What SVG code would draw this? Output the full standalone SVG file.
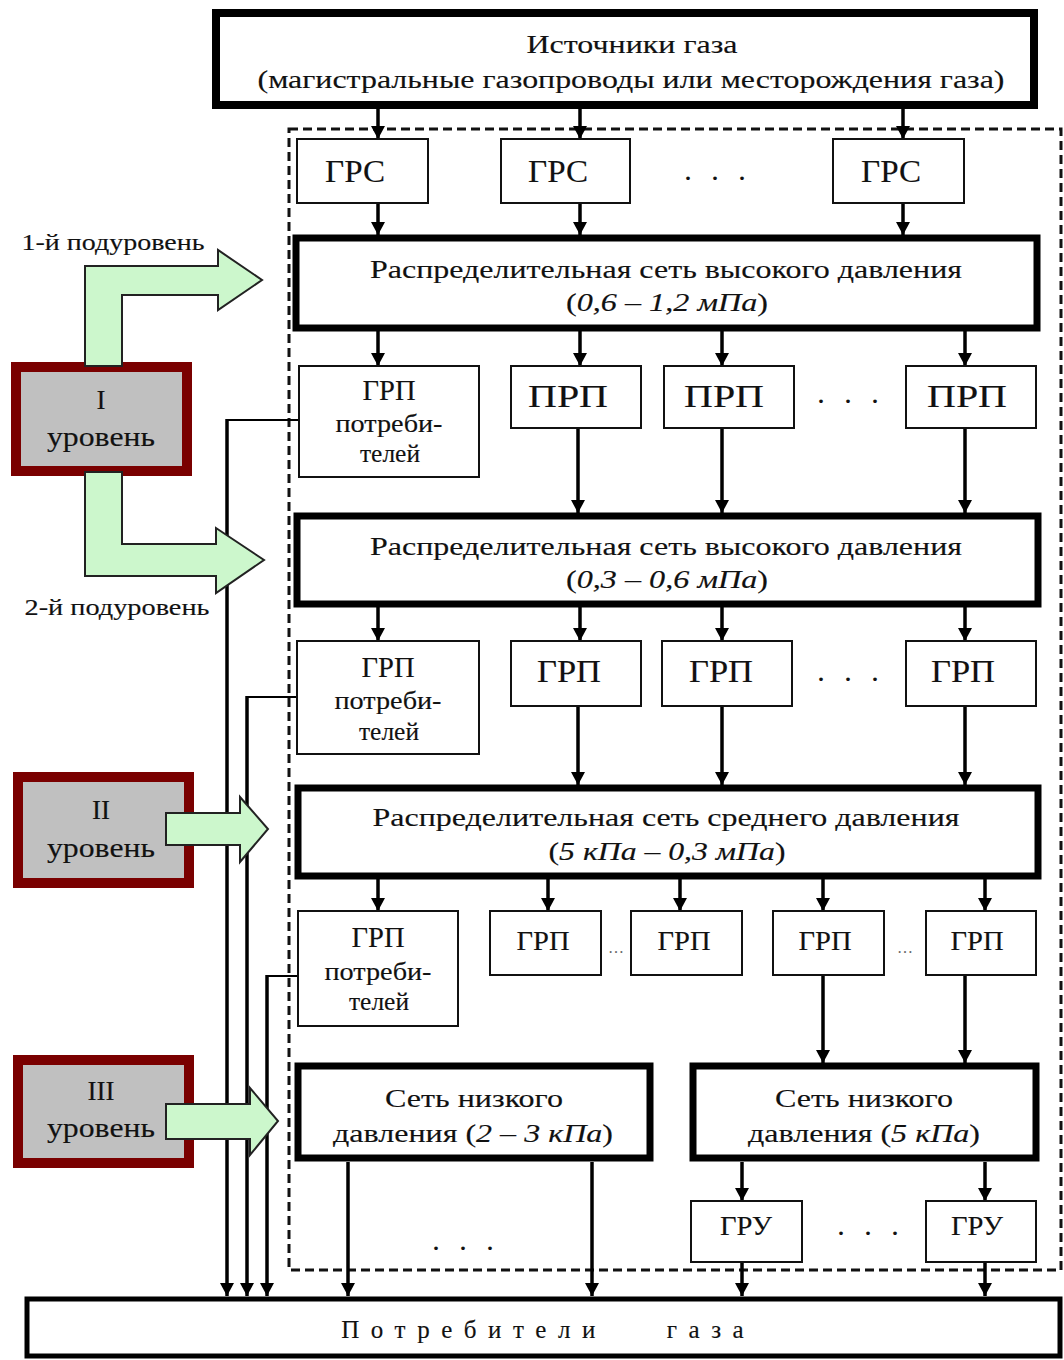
<svg xmlns="http://www.w3.org/2000/svg" width="1064" height="1360" viewBox="0 0 1064 1360">
<style>
text{font-family:"Liberation Serif","Times New Roman",serif;fill:#111;stroke:#111;stroke-width:0.15;text-anchor:middle}
.it{font-style:italic}
.box{fill:#fff;stroke:#111;stroke-width:2}
.net{fill:#fff;stroke:#000;stroke-width:7}
.lvl{fill:#c0c0c0;stroke:#7a0000;stroke-width:10}
.grn{fill:#ccf7cc;stroke:#222;stroke-width:2;stroke-linejoin:miter}
.con line,.con path{stroke:#000;stroke-width:3.5;fill:none;marker-end:url(#ah)}
.con .tap{stroke-width:2;marker-end:none}
.dots{fill:#666;stroke:none}
</style>
<defs>
<marker id="ah" markerUnits="userSpaceOnUse" markerWidth="14" markerHeight="14" refX="13" refY="7" orient="auto">
<path d="M0,0 L13,7 L0,14 z" fill="#000"/>
</marker>
</defs>
<rect width="1064" height="1360" fill="#fff"/>

<!-- dashed boundary -->
<rect id="boundary" x="289" y="129" width="772" height="1141" fill="none" stroke="#111" stroke-width="3" stroke-dasharray="9,5"/>

<!-- connectors -->
<g id="connectors" class="con">
<line x1="378" y1="109" x2="378" y2="139"/>
<line x1="580" y1="109" x2="580" y2="139"/>
<line x1="903" y1="109" x2="903" y2="139"/>
<line x1="378" y1="203" x2="378" y2="235"/>
<line x1="580" y1="203" x2="580" y2="235"/>
<line x1="903" y1="203" x2="903" y2="235"/>
<line x1="378" y1="331" x2="378" y2="366"/>
<line x1="580" y1="331" x2="580" y2="366"/>
<line x1="722" y1="331" x2="722" y2="366"/>
<line x1="965" y1="331" x2="965" y2="366"/>
<line x1="578" y1="428" x2="578" y2="513"/>
<line x1="722" y1="428" x2="722" y2="513"/>
<line x1="965" y1="428" x2="965" y2="513"/>
<line x1="378" y1="607" x2="378" y2="641"/>
<line x1="580" y1="607" x2="580" y2="641"/>
<line x1="722" y1="607" x2="722" y2="641"/>
<line x1="965" y1="607" x2="965" y2="641"/>
<line x1="578" y1="706" x2="578" y2="785"/>
<line x1="722" y1="706" x2="722" y2="785"/>
<line x1="965" y1="706" x2="965" y2="785"/>
<line x1="378" y1="879" x2="378" y2="911"/>
<line x1="548" y1="879" x2="548" y2="911"/>
<line x1="680" y1="879" x2="680" y2="911"/>
<line x1="823" y1="879" x2="823" y2="911"/>
<line x1="985" y1="879" x2="985" y2="911"/>
<line x1="823" y1="975" x2="823" y2="1063"/>
<line x1="965" y1="975" x2="965" y2="1063"/>
<line x1="348" y1="1162" x2="348" y2="1296"/>
<line x1="592" y1="1162" x2="592" y2="1296"/>
<line x1="742" y1="1162" x2="742" y2="1201"/>
<line x1="985" y1="1162" x2="985" y2="1201"/>
<line x1="742" y1="1262" x2="742" y2="1296"/>
<line x1="985" y1="1262" x2="985" y2="1296"/>
<line class="tap" x1="299" y1="420" x2="226" y2="420"/>
<line x1="227" y1="419" x2="227" y2="1296"/>
<line class="tap" x1="297" y1="697" x2="246" y2="697"/>
<line x1="247" y1="696" x2="247" y2="1296"/>
<line class="tap" x1="298" y1="976" x2="266" y2="976"/>
<line x1="267" y1="975" x2="267" y2="1296"/>
</g>

<!-- level markers -->
<g id="level1">
<rect class="lvl" x="16" y="367" width="171" height="104"/>
<text x="101" y="409" font-size="27">I</text>
<text x="101" y="446" font-size="27" textLength="108" lengthAdjust="spacingAndGlyphs">уровень</text>
</g>
<g id="level2">
<rect class="lvl" x="18" y="777" width="171" height="106"/>
<text x="101" y="819" font-size="27">II</text>
<text x="101" y="857" font-size="27" textLength="108" lengthAdjust="spacingAndGlyphs">уровень</text>
</g>
<g id="level3">
<rect class="lvl" x="18" y="1060" width="171" height="103"/>
<text x="101" y="1100" font-size="27">III</text>
<text x="101" y="1137" font-size="27" textLength="108" lengthAdjust="spacingAndGlyphs">уровень</text>
</g>

<g id="arrow-sub1">
<polygon class="grn" points="85,366 85,266 218,266 218,250 262,280 218,310 218,295 122,295 122,366"/>
</g>
<g id="arrow-sub2">
<polygon class="grn" points="85,472 122,472 122,544 216,544 216,528 264,560 216,593 216,576 85,576"/>
</g>
<g id="arrow-lvl2">
<polygon class="grn" points="166,813 240,813 240,797 268,829 240,862 240,845 166,845"/>
</g>
<g id="arrow-lvl3">
<polygon class="grn" points="166,1104 250,1104 250,1088 278,1121 250,1155 250,1139 166,1139"/>
</g>
<text x="113" y="250" font-size="23" textLength="183" lengthAdjust="spacingAndGlyphs">1-й подуровень</text>
<text x="117" y="615" font-size="23" textLength="185" lengthAdjust="spacingAndGlyphs">2-й подуровень</text>

<!-- sources -->
<g id="sources">
<rect x="216" y="13" width="818" height="92" fill="#fff" stroke="#000" stroke-width="8"/>
<text x="632" y="53" font-size="26" textLength="211" lengthAdjust="spacingAndGlyphs">Источники газа</text>
<text x="631" y="88" font-size="26" textLength="747" lengthAdjust="spacingAndGlyphs">(магистральные газопроводы или месторождения газа)</text>
</g>

<g id="grs1"><rect class="box" x="297" y="139" width="131" height="64"/><text x="355" y="182" font-size="31" textLength="60" lengthAdjust="spacingAndGlyphs">ГРС</text></g>
<g id="grs2"><rect class="box" x="501" y="139" width="129" height="64"/><text x="558" y="182" font-size="31" textLength="60" lengthAdjust="spacingAndGlyphs">ГРС</text></g>
<g id="grs3"><rect class="box" x="833" y="139" width="131" height="64"/><text x="891" y="182" font-size="31" textLength="60" lengthAdjust="spacingAndGlyphs">ГРС</text></g>
<text x="718" y="180" font-size="30" letter-spacing="6">. . .</text>

<g id="net-high1">
<rect class="net" x="296" y="238" width="741" height="90"/>
<text x="666" y="278" font-size="26" textLength="592" lengthAdjust="spacingAndGlyphs">Распределительная сеть высокого давления</text>
<text x="667" y="311" font-size="26" textLength="202" lengthAdjust="spacingAndGlyphs">(<tspan class="it">0,6 – 1,2 мПа</tspan>)</text>
</g>

<g id="grp-c1"><rect class="box" x="299" y="366" width="180" height="111"/>
<text x="389" y="400" font-size="29" textLength="53" lengthAdjust="spacingAndGlyphs">ГРП</text>
<text x="389" y="432" font-size="25" textLength="107" lengthAdjust="spacingAndGlyphs">потреби-</text>
<text x="390" y="462" font-size="25" textLength="60" lengthAdjust="spacingAndGlyphs">телей</text></g>
<g id="prp1"><rect class="box" x="511" y="366" width="130" height="62"/><text x="568" y="407" font-size="31" textLength="80" lengthAdjust="spacingAndGlyphs">ПРП</text></g>
<g id="prp2"><rect class="box" x="664" y="366" width="130" height="62"/><text x="724" y="407" font-size="31" textLength="80" lengthAdjust="spacingAndGlyphs">ПРП</text></g>
<g id="prp3"><rect class="box" x="906" y="366" width="130" height="62"/><text x="967" y="407" font-size="31" textLength="80" lengthAdjust="spacingAndGlyphs">ПРП</text></g>
<text x="851" y="403" font-size="30" letter-spacing="6">. . .</text>

<g id="net-high2">
<rect class="net" x="297" y="516" width="741" height="88"/>
<text x="666" y="555" font-size="26" textLength="592" lengthAdjust="spacingAndGlyphs">Распределительная сеть высокого давления</text>
<text x="667" y="588" font-size="26" textLength="202" lengthAdjust="spacingAndGlyphs">(<tspan class="it">0,3 – 0,6 мПа</tspan>)</text>
</g>

<g id="grp-c2"><rect class="box" x="297" y="641" width="182" height="113"/>
<text x="388" y="677" font-size="29" textLength="53" lengthAdjust="spacingAndGlyphs">ГРП</text>
<text x="388" y="709" font-size="25" textLength="107" lengthAdjust="spacingAndGlyphs">потреби-</text>
<text x="389" y="740" font-size="25" textLength="60" lengthAdjust="spacingAndGlyphs">телей</text></g>
<g id="grp1"><rect class="box" x="511" y="641" width="130" height="65"/><text x="569" y="682" font-size="31" textLength="64" lengthAdjust="spacingAndGlyphs">ГРП</text></g>
<g id="grp2"><rect class="box" x="662" y="641" width="130" height="65"/><text x="721" y="682" font-size="31" textLength="64" lengthAdjust="spacingAndGlyphs">ГРП</text></g>
<g id="grp3"><rect class="box" x="906" y="641" width="130" height="65"/><text x="963" y="682" font-size="31" textLength="64" lengthAdjust="spacingAndGlyphs">ГРП</text></g>
<text x="851" y="681" font-size="30" letter-spacing="6">. . .</text>

<g id="net-medium">
<rect class="net" x="298" y="788" width="740" height="88"/>
<text x="666" y="826" font-size="26" textLength="587" lengthAdjust="spacingAndGlyphs">Распределительная сеть среднего давления</text>
<text x="667" y="860" font-size="26" textLength="237" lengthAdjust="spacingAndGlyphs">(<tspan class="it">5 кПа – 0,3 мПа</tspan>)</text>
</g>

<g id="grp-c3"><rect class="box" x="298" y="911" width="160" height="115"/>
<text x="378" y="947" font-size="29" textLength="53" lengthAdjust="spacingAndGlyphs">ГРП</text>
<text x="378" y="980" font-size="25" textLength="107" lengthAdjust="spacingAndGlyphs">потреби-</text>
<text x="379" y="1010" font-size="25" textLength="60" lengthAdjust="spacingAndGlyphs">телей</text></g>
<g id="grp4"><rect class="box" x="490" y="911" width="111" height="64"/><text x="543" y="950" font-size="27" textLength="53" lengthAdjust="spacingAndGlyphs">ГРП</text></g>
<g id="grp5"><rect class="box" x="631" y="911" width="111" height="64"/><text x="684" y="950" font-size="27" textLength="53" lengthAdjust="spacingAndGlyphs">ГРП</text></g>
<g id="grp6"><rect class="box" x="773" y="911" width="111" height="64"/><text x="825" y="950" font-size="27" textLength="53" lengthAdjust="spacingAndGlyphs">ГРП</text></g>
<g id="grp7"><rect class="box" x="926" y="911" width="110" height="64"/><text x="977" y="950" font-size="27" textLength="53" lengthAdjust="spacingAndGlyphs">ГРП</text></g>
<text class="dots" x="616" y="953" font-size="16">…</text>
<text class="dots" x="905" y="953" font-size="16">…</text>

<g id="net-low1">
<rect class="net" x="298" y="1066" width="352" height="92"/>
<text x="474" y="1107" font-size="26" textLength="178" lengthAdjust="spacingAndGlyphs">Сеть низкого</text>
<text x="473" y="1142" font-size="26" textLength="280" lengthAdjust="spacingAndGlyphs">давления (<tspan class="it">2 – 3 кПа</tspan>)</text>
</g>
<g id="net-low2">
<rect class="net" x="693" y="1066" width="343" height="92"/>
<text x="864" y="1107" font-size="26" textLength="178" lengthAdjust="spacingAndGlyphs">Сеть низкого</text>
<text x="864" y="1142" font-size="26" textLength="232" lengthAdjust="spacingAndGlyphs">давления (<tspan class="it">5 кПа</tspan>)</text>
</g>
<text x="466" y="1250" font-size="30" letter-spacing="6">. . .</text>

<g id="gru1"><rect class="box" x="691" y="1201" width="111" height="61"/><text x="746" y="1235" font-size="27" textLength="52" lengthAdjust="spacingAndGlyphs">ГРУ</text></g>
<g id="gru2"><rect class="box" x="926" y="1201" width="110" height="61"/><text x="977" y="1235" font-size="27" textLength="52" lengthAdjust="spacingAndGlyphs">ГРУ</text></g>
<text x="871" y="1235" font-size="30" letter-spacing="6">. . .</text>

<g id="consumers">
<rect x="27" y="1299" width="1033" height="57" fill="#fff" stroke="#000" stroke-width="5"/>
<text x="474" y="1338" font-size="25" letter-spacing="11.5">Потребители</text>
<text x="711" y="1338" font-size="25" letter-spacing="11.5">газа</text>
</g>
</svg>
